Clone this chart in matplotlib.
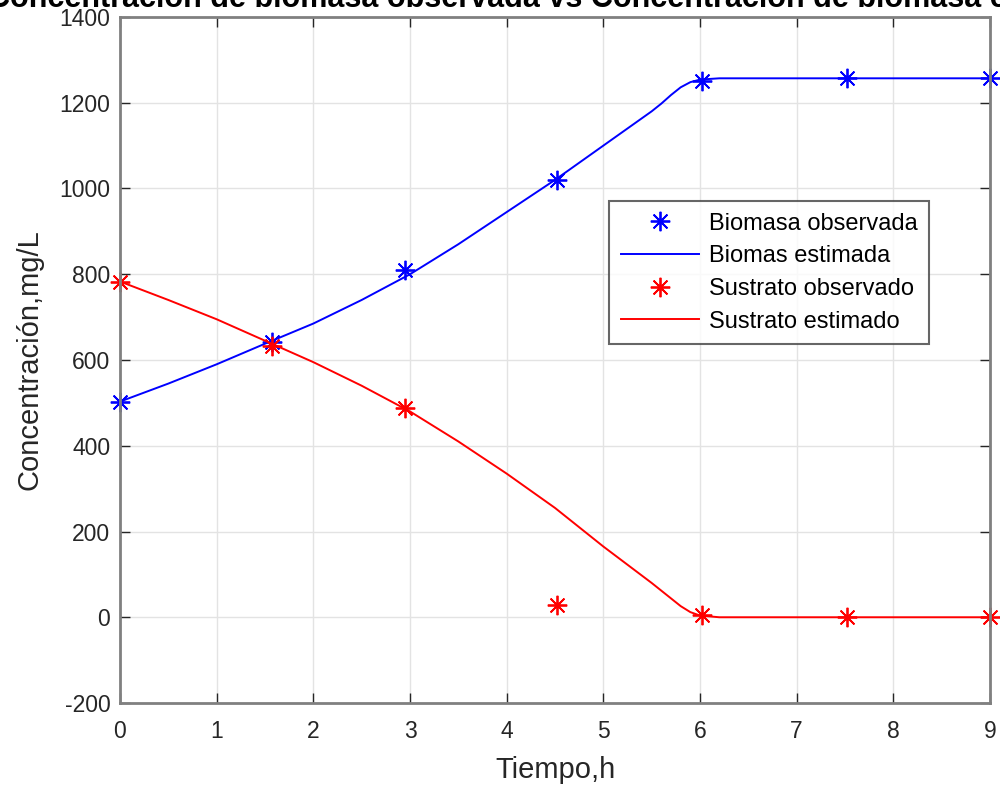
import matplotlib
matplotlib.use('Agg')
import matplotlib.pyplot as plt

plt.rcParams['font.family'] = ['Liberation Sans', 'DejaVu Sans']
plt.rcParams['axes.unicode_minus'] = False

# Observed data
t_obs = [0, 1.57, 2.95, 4.52, 6.02, 7.52, 9.0]
biomasa_obs = [503, 643, 810, 1020, 1250, 1257, 1257]
sustrato_obs = [783, 633, 487, 28, 5, 0, 0]

# Estimated (model) curves
t_est = [0, 0.5, 1, 1.5, 2, 2.5, 3, 3.5, 4, 4.5, 5, 5.5, 5.6, 5.7, 5.8,
         5.9, 6.0, 6.2, 7, 8, 9]
biomasa_est = [503, 545, 590, 638, 685, 740, 800, 870, 945, 1020, 1100, 1180,
               1198, 1218, 1236, 1248, 1254, 1257, 1257, 1257, 1257]
sustrato_est = [783, 740, 695, 645, 595, 540, 480, 410, 335, 255, 165, 80,
                62, 44, 26, 12, 4, 0, 0, 0, 0]

fig = plt.figure(figsize=(10, 7.94), dpi=100)
ax = fig.add_axes([0.12, 0.1146, 0.87, 0.864])

ast = (8, 2, 0)
ax.plot(t_obs, biomasa_obs, linestyle='none', marker=ast, color='#0000ff',
        markersize=14, markeredgewidth=1.3, label='Biomasa observada', clip_on=False)
ax.plot(t_est, biomasa_est, color='#0000ff', linewidth=1.4, label='Biomas estimada')
ax.plot(t_obs, sustrato_obs, linestyle='none', marker=ast, color='#ff0000',
        markersize=14, markeredgewidth=1.3, label='Sustrato observado', clip_on=False)
ax.plot(t_est, sustrato_est, color='#ff0000', linewidth=1.4, label='Sustrato estimado')

ax.set_xlim(0, 9)
ax.set_ylim(-200, 1400)
ax.set_xticks(range(0, 10))
ax.set_yticks(range(-200, 1401, 200))
ax.grid(True, color='#e3e3e3', linewidth=1)
ax.set_axisbelow(True)
ax.tick_params(direction='in', top=True, right=True, labelsize=16.5,
               colors='#262626', length=7, width=1)
ax.tick_params(axis='x', pad=12)
ax.tick_params(axis='y', pad=7)
for s in ax.spines.values():
    s.set_color('#808080')
    s.set_linewidth(2)

ax.set_xlabel('Tiempo,h', fontsize=21, color='#262626')
ax.xaxis.set_label_coords(0.5, -0.077)
ax.set_ylabel('Concentración,mg/L', fontsize=21, color='#262626')
ax.yaxis.set_label_coords(-0.088, 0.5)

# title sits partly above the figure edge, as in the original export
fig.text(0.555, 1 - 7 / 794, 'Concentración de biomasa observada vs Concentración de biomasa estimada',
         fontsize=22, fontweight='bold', ha='center', va='baseline')

leg = ax.legend(loc='upper left', bbox_to_anchor=(0.5625, 0.732), fontsize=17,
                frameon=True, fancybox=False, borderpad=0.5, handlelength=3.3,
                handletextpad=0.4, labelspacing=0.45, borderaxespad=0)
leg.get_frame().set_edgecolor('#404040')
leg.get_frame().set_linewidth(1.5)

fig.savefig('out.png', dpi=100)
